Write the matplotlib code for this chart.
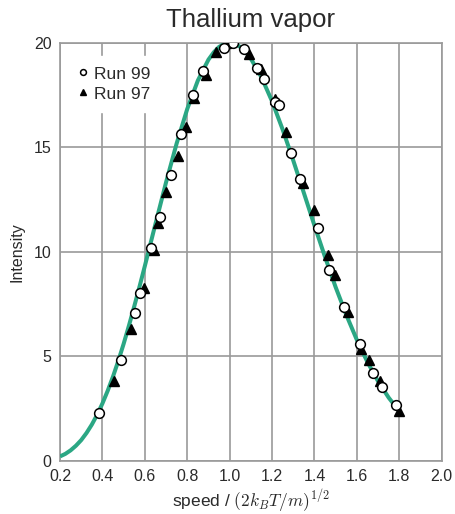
import matplotlib
matplotlib.use('Agg')
import matplotlib.pyplot as plt

plt.rcParams['font.family'] = ['Liberation Sans', 'DejaVu Sans']
plt.rcParams['mathtext.fontset'] = 'cm'

# theory curve
curve_x = [0.200, 0.225, 0.250, 0.275, 0.300, 0.325, 0.350, 0.375, 0.400, 0.425,
           0.450, 0.475, 0.500, 0.525, 0.550, 0.575, 0.600, 0.650, 0.700, 0.750,
           0.800, 0.850, 0.900, 0.925, 0.950, 0.975, 1.000, 1.025, 1.050, 1.075,
           1.100, 1.150, 1.200, 1.250, 1.300, 1.350, 1.400, 1.450, 1.500, 1.550,
           1.600, 1.650, 1.700, 1.750, 1.800]
curve_y = [0.22, 0.34, 0.51, 0.73, 1.00, 1.34, 1.74, 2.21, 2.75, 3.36,
           4.04, 4.79, 5.60, 6.47, 7.39, 8.34, 9.32, 11.33, 13.32, 15.18,
           16.83, 18.19, 19.19, 19.54, 19.80, 19.95, 20.00, 19.95, 19.80, 19.56,
           19.24, 18.35, 17.20, 15.85, 14.37, 12.82, 11.26, 9.75, 8.31, 6.99,
           5.79, 4.73, 3.81, 3.03, 2.38]

# Run 99 (open circles)
run99_x = [0.384, 0.488, 0.552, 0.579, 0.629, 0.672, 0.725, 0.771, 0.826, 0.873,
           0.975, 1.015, 1.069, 1.128, 1.164, 1.216, 1.231, 1.291, 1.332, 1.417,
           1.470, 1.540, 1.615, 1.678, 1.717, 1.783]
run99_y = [2.29, 4.84, 7.09, 8.03, 10.20, 11.66, 13.69, 15.65, 17.50, 18.64,
           19.77, 20.00, 19.71, 18.79, 18.27, 17.16, 17.00, 14.74, 13.48, 11.12,
           9.13, 7.38, 5.58, 4.22, 3.54, 2.68]

# Run 97 (filled triangles)
run97_x = [0.455, 0.533, 0.598, 0.645, 0.662, 0.698, 0.755, 0.793, 0.834, 0.887,
           0.934, 0.982, 1.093, 1.148, 1.216, 1.266, 1.348, 1.400, 1.466, 1.497,
           1.560, 1.618, 1.655, 1.709, 1.799]
run97_y = [3.82, 6.29, 8.29, 10.09, 11.39, 12.86, 14.58, 15.97, 17.37, 18.48,
           19.54, 20.00, 19.47, 18.74, 17.29, 15.71, 13.27, 12.00, 9.85, 8.89,
           7.14, 5.35, 4.83, 3.84, 2.40]

xticks = [0.2, 0.4, 0.6, 0.8, 1.0, 1.2, 1.4, 1.6, 1.8, 2.0]
yticks = [0, 5, 10, 15, 20]

fig = plt.figure(figsize=(4.56, 5.14), dpi=100)
ax = fig.add_axes([0.1316, 0.1031, 0.837, 0.8138])

ax.plot(curve_x, curve_y, color='#2BA784', lw=2.9, zorder=3,
        solid_capstyle='butt', solid_joinstyle='round')
ax.plot(run97_x, run97_y, ls='none', marker='^', ms=7.5, color='black', zorder=4,
        label='Run 97')
ax.plot(run99_x, run99_y, ls='none', marker='o', ms=7, mfc='white', mec='black',
        mew=1.1, zorder=5, label='Run 99')

ax.set_xlim(0.2, 2.0)
ax.set_ylim(0, 20)
ax.set_xticks(xticks)
ax.set_xticklabels(['%.1f' % t for t in xticks])
ax.set_yticks(yticks)
ax.tick_params(length=0, labelsize=11.5, colors='#2a2a2a', pad=6)
ax.grid(True, color='#9a9a9a', lw=1.2)
ax.set_axisbelow(True)
for s in ax.spines.values():
    s.set_color('#9a9a9a')
    s.set_linewidth(1.2)

handles, labels = ax.get_legend_handles_labels()
leg = ax.legend(handles[::-1], labels[::-1], loc='upper left',
                bbox_to_anchor=(0.0, 0.985), frameon=True,
                fontsize=12.5, markerscale=0.6, handlelength=0.6, handletextpad=0.35,
                borderaxespad=0.4, labelspacing=0.28, borderpad=0.6)
leg.get_frame().set_edgecolor('white')
leg.get_frame().set_facecolor('white')
leg.get_frame().set_alpha(1)
for t in leg.get_texts():
    t.set_color('#2a2a2a')

ax.set_title('Thallium vapor', fontsize=18.5, color='#2a2a2a', pad=11)
ax.set_xlabel(r'speed / $(2k_BT/m)^{1/2}$', fontsize=12.5, color='#2a2a2a', labelpad=2)
ax.set_ylabel('Intensity', fontsize=11.5, color='#2a2a2a', labelpad=7)

fig.savefig('out.png', dpi=100)
